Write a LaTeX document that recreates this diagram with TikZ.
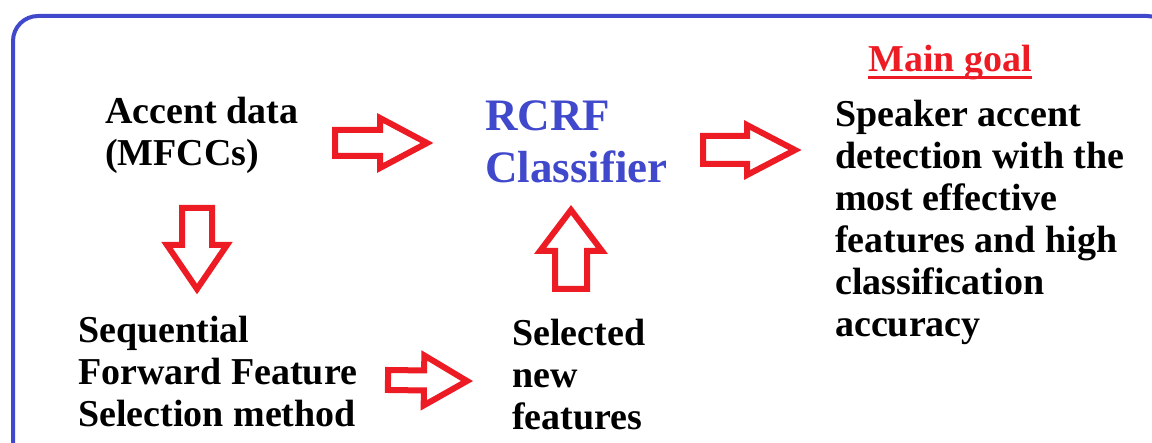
\documentclass[tikz,border=0pt]{standalone}
\usepackage{fontspec}
\setmainfont{LiberationSerif}[Extension=.ttf, UprightFont=*-Regular, BoldFont=*-Bold]
\usepackage{tikz}
\usetikzlibrary{calc}
\definecolor{FrameBlue}{RGB}{64, 72, 204}
\definecolor{ArrowRed}{RGB}{237, 28, 36}
% hollow block arrow: tail, tip, shaft half width, head half width, head length
\newcommand{\hollowarrow}[5]{%
  \draw[blockarrow] ($(#1)!#3!90:(#2)$) -- ($($(#2)!#5!(#1)$)!#3!-90:(#1)$)
    -- ($($(#2)!#5!(#1)$)!#4!-90:(#1)$) -- (#2)
    -- ($($(#2)!#5!(#1)$)!#4!90:(#1)$) -- ($($(#2)!#5!(#1)$)!#3!90:(#1)$)
    -- ($(#1)!#3!-90:(#2)$) -- cycle;}
\begin{document}
\begin{tikzpicture}[x=1pt, y=-1pt,
            frame/.style={draw=FrameBlue, line width=4pt, rounded corners=25pt},
            blockarrow/.style={draw=ArrowRed, fill=white, line width=6pt, line join=miter},
            txt/.style={anchor=north west, inner sep=0pt, align=left, font=\rmfamily\fontsize{38}{42}\selectfont\bfseries},
            blue/.style={txt, text=FrameBlue, font=\rmfamily\fontsize{45}{52}\selectfont\bfseries}
        ]
        \clip (0,0) rectangle (1152,443);
        
        % Frame
        \draw[frame] (13,16) rectangle (1172,480);
        
        % Texts
        \node[txt] (acc) at (105,97) {Accent data\\(MFCCs)};
        \node[blue] (rcrf) at (485,101) {RCRF\\Classifier};
        \node[txt, text=ArrowRed] (goal) at (868,45) {Main goal};
        \node[txt] (spk) at (835,100) {Speaker accent\\detection with the\\most effective\\features and high\\classification\\accuracy};
        \node[txt] (sfs) at (78,316) {Sequential\\Forward Feature\\Selection method};
        \node[txt] (sel) at (512,319) {Selected\\new\\features};
        \draw[ArrowRed, line width=3pt] ($(goal.base west)+(0,6)$) -- ($(goal.base east)+(0,6)$);
        
        % Arrow ends
        \coordinate (a1s) at (335,143);
        \coordinate (a1e) at (427,143);
        \coordinate (a2s) at (703,150);
        \coordinate (a2e) at (795,150);
        \coordinate (a3s) at (197,208);
        \coordinate (a3e) at (197,289);
        \coordinate (a4s) at (388,380);
        \coordinate (a4e) at (467,381);
        \coordinate (a5s) at (571,289);
        \coordinate (a5e) at (571,210);
        
        % Block arrows
        \hollowarrow{a1s}{a1e}{13pt}{25pt}{47pt}
        \hollowarrow{a2s}{a2e}{14pt}{25pt}{48pt}
        \hollowarrow{a3s}{a3e}{15pt}{30pt}{44pt}
        \hollowarrow{a4s}{a4e}{10pt}{25pt}{43pt}
        \hollowarrow{a5s}{a5e}{16pt}{31pt}{41pt}

\end{tikzpicture}
\end{document}
